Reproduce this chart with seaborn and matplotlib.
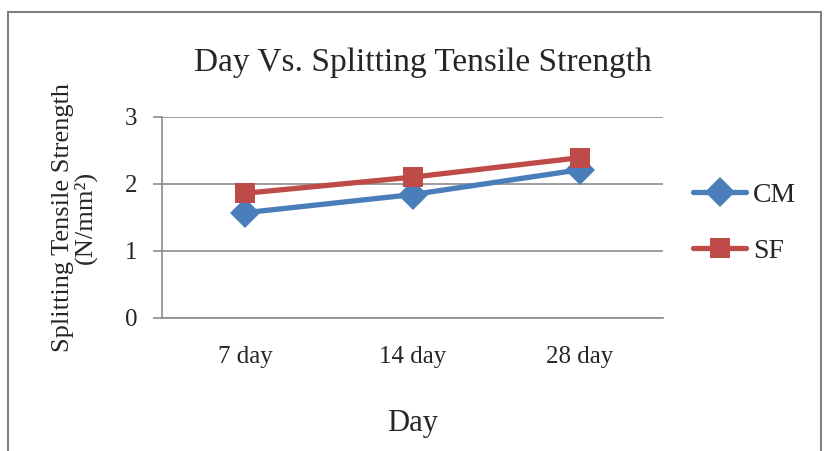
import pandas as pd
import matplotlib
matplotlib.use('Agg')
import matplotlib.pyplot as plt
import seaborn as sns
from matplotlib.patches import Rectangle

# data
days = ['7 day', '14 day', '28 day']
cm_vals = [1.57, 1.84, 2.21]
sf_vals = [1.86, 2.10, 2.39]

df = pd.DataFrame({
    'Day': days * 2,
    'Strength': cm_vals + sf_vals,
    'Mix': ['CM'] * 3 + ['SF'] * 3,
})

sns.set_theme(style='white')
plt.rcParams['font.family'] = ['Liberation Serif', 'DejaVu Serif']

fig = plt.figure(figsize=(8.25, 4.51), dpi=100)
ax = fig.add_axes([0.196, 0.295, 0.608, 0.446])

palette = {'CM': '#4A7EBB', 'SF': '#BE4B48'}
sns.lineplot(data=df, x='Day', y='Strength', hue='Mix', style='Mix',
             markers={'CM': 'D', 'SF': 's'}, dashes=False, palette=palette,
             linewidth=3.8, markersize=15, markeredgewidth=0, sort=False,
             ax=ax)

ax.set_xlim(-0.5, 2.5)
ax.set_ylim(0, 3)
ax.set_yticks([0, 1, 2, 3])
ax.yaxis.grid(True, color='#8c8c8c', linewidth=1.2)
ax.set_axisbelow(True)
for s in ['top', 'right']:
    ax.spines[s].set_visible(False)
for s in ['left', 'bottom']:
    ax.spines[s].set_color('#8c8c8c')
    ax.spines[s].set_linewidth(1.2)
ax.tick_params(axis='y', which='both', left=True, length=6.5, width=1.2,
               color='#8c8c8c', labelsize=18, pad=11)
ax.tick_params(axis='x', bottom=False, labelsize=18, pad=14)

ax.set_xlabel('Day', fontsize=22, labelpad=30)
ax.set_ylabel('Splitting Tensile Strength\n(N/mm\u00b2)', fontsize=19,
              labelpad=20, linespacing=1.0)
ax.set_title('Day Vs. Splitting Tensile Strength', fontsize=24, pad=33, x=0.52)

leg = ax.legend(loc='center left', bbox_to_anchor=(1.01, 0.47), frameon=False,
                fontsize=20, handlelength=1.9, labelspacing=1.1,
                handletextpad=0.25)

# outer frame around the figure
fig.patches.append(Rectangle((0.01, -0.05), 0.985, 1.024, transform=fig.transFigure,
                             fill=False, edgecolor='#808080', linewidth=1.5))

fig.savefig('out.png', dpi=100)
